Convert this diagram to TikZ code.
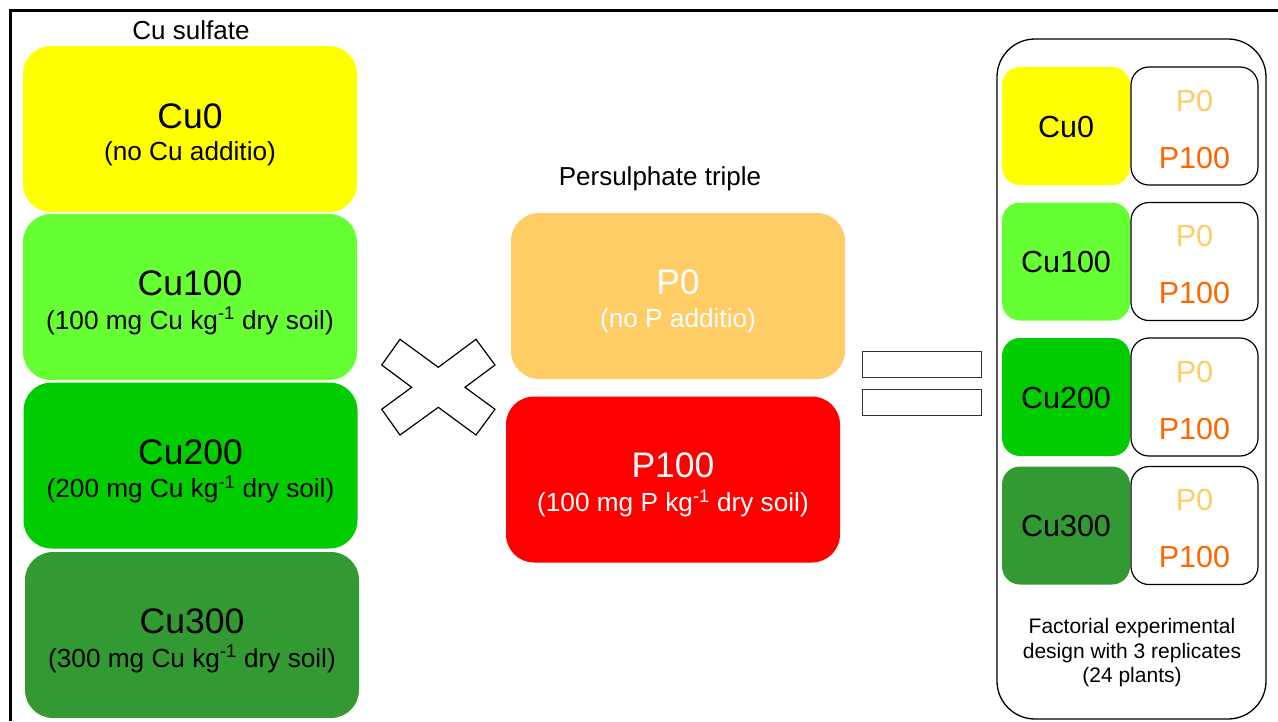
\documentclass[tikz,border=0pt]{standalone}
\usepackage{fontspec}
\setmainfont{Liberation Sans}
\usetikzlibrary{calc}
\definecolor{cuzero}{HTML}{FFFF00}
\definecolor{cuone}{HTML}{66FF33}
\definecolor{cutwo}{HTML}{00CC00}
\definecolor{cuthree}{HTML}{339933}
\definecolor{pzero}{HTML}{FFCC66}
\definecolor{phund}{HTML}{FF0000}
\definecolor{porange}{HTML}{FF6600}
\newcommand\myftitle{\fontsize{35.5}{40}\selectfont}
\newcommand\myfsub{\fontsize{26.2}{30}\selectfont}
\newcommand\myfhead{\fontsize{26}{30}\selectfont}
\newcommand\myfpanel{\fontsize{30.5}{34}\selectfont}
\newcommand\myffoot{\fontsize{21}{24.5}\selectfont}
\tikzset{
  bigbox/.style={rectangle, rounded corners=28pt, minimum width=334pt, minimum height=166pt, inner sep=0pt},
  smallbox/.style={rectangle, rounded corners=18pt, minimum width=128pt, minimum height=118pt, inner sep=0pt},
  pbox/.style={smallbox, draw=black, fill=white, line width=1.2pt, minimum width=127pt},
  ttl/.style={anchor=base, inner sep=0pt, font=\myftitle},
  sub/.style={anchor=base, inner sep=0pt, font=\myfsub},
  pnl/.style={anchor=base, inner sep=0pt, font=\myfpanel},
  eqbar/.style={rectangle, draw=black!80, line width=1.2pt, minimum width=119pt, minimum height=25.5pt, inner sep=0pt},
}
\begin{document}
\begin{tikzpicture}[x=1pt, y=-1pt]
\useasboundingbox (0,0) rectangle (1278,721);
% frame
\coordinate (fbl) at (10.5,721);
\coordinate (ftl) at (10.5,10.5);
\coordinate (ftr) at (1278,10.5);
\draw[line width=2.2pt] (fbl) -- (ftl) -- (ftr);

% left column
\node[anchor=base, font=\myfhead, inner sep=0pt] (cuhead) at (191,39.3) {Cu sulfate};
\node[bigbox, fill=cuzero] (cu0) at (190,129) {};
\node[bigbox, fill=cuone] (cu1) at (190,297) {};
\node[bigbox, fill=cutwo] (cu2) at (190.5,465.5) {};
\node[bigbox, fill=cuthree] (cu3) at (192,635) {};
\node[ttl] (cu0t) at ($(cu0.center)+(0,-1)$) {Cu0};
\node[sub] (cu0s) at ($(cu0.center)+(0,31)$) {(no Cu additio)};
\node[ttl] (cu1t) at ($(cu1.center)+(0,-1.5)$) {Cu100};
\node[sub] (cu1s) at ($(cu1.center)+(0,32)$) {(100 mg Cu kg\textsuperscript{-1} dry soil)};
\node[ttl] (cu2t) at ($(cu2.center)+(0,-1.5)$) {Cu200};
\node[sub] (cu2s) at ($(cu2.center)+(0,32)$) {(200 mg Cu kg\textsuperscript{-1} dry soil)};
\node[ttl] (cu3t) at ($(cu3.center)+(0,-2)$) {Cu300};
\node[sub] (cu3s) at ($(cu3.center)+(0,32)$) {(300 mg Cu kg\textsuperscript{-1} dry soil)};

% times sign
\draw[line width=1.2pt, line join=miter, fill=white]
  (400,339.3) -- (438.3,367.3) -- (476,339.3) -- (495,365) -- (465,387.3) -- (495,409.3)
  -- (476,435) -- (438.3,407.3) -- (400,435) -- (381.7,409.3) -- (411.7,387.3) -- (381.7,365) -- cycle;

% middle column
\node[anchor=base, font=\myfhead, inner sep=0pt] (phead) at (660,185) {Persulphate triple};
\node[bigbox, fill=pzero] (p0) at (678,296) {};
\node[bigbox, fill=phund] (p1) at (673,479.5) {};
\node[ttl, text=white] (p0t) at ($(p0.center)+(0,-2)$) {P0};
\node[sub, text=white] (p0s) at ($(p0.center)+(0,31)$) {(no P additio)};
\node[ttl, text=white] (p1t) at ($(p1.center)+(0,-2)$) {P100};
\node[sub, text=white] (p1s) at ($(p1.center)+(0,32)$) {(100 mg P kg\textsuperscript{-1} dry soil)};

% equals sign
\node[eqbar] (eq1) at (922.2,364.5) {};
\node[eqbar] (eq2) at (922.2,402.5) {};

% right panel
\node[rectangle, draw=black, line width=1.3pt, rounded corners=38pt, minimum width=269pt, minimum height=680pt, inner sep=0pt] (panel) at (1131.5,379) {};
\foreach \i/\yc/\col/\lab in {0/126/cuzero/Cu0, 1/261.5/cuone/Cu100, 2/397/cutwo/Cu200, 3/525.5/cuthree/Cu300}{
  \node[smallbox, fill=\col] (rc\i) at (1066,\yc) {};
  \node[pbox] (rp\i) at (1194.5,\yc) {};
  \node[pnl] (rct\i) at ($(rc\i.center)+(0,11)$) {\lab};
  \node[pnl, text=pzero] (rpa\i) at ($(rp\i.center)+(0,-15)$) {P0};
  \node[pnl, text=porange] (rpb\i) at ($(rp\i.center)+(0,42)$) {P100};
}
\node[align=center, font=\myffoot, inner sep=0pt] (foot) at (1132,653) {Factorial experimental\\design with 3 replicates\\(24 plants)};
\end{tikzpicture}
\end{document}
